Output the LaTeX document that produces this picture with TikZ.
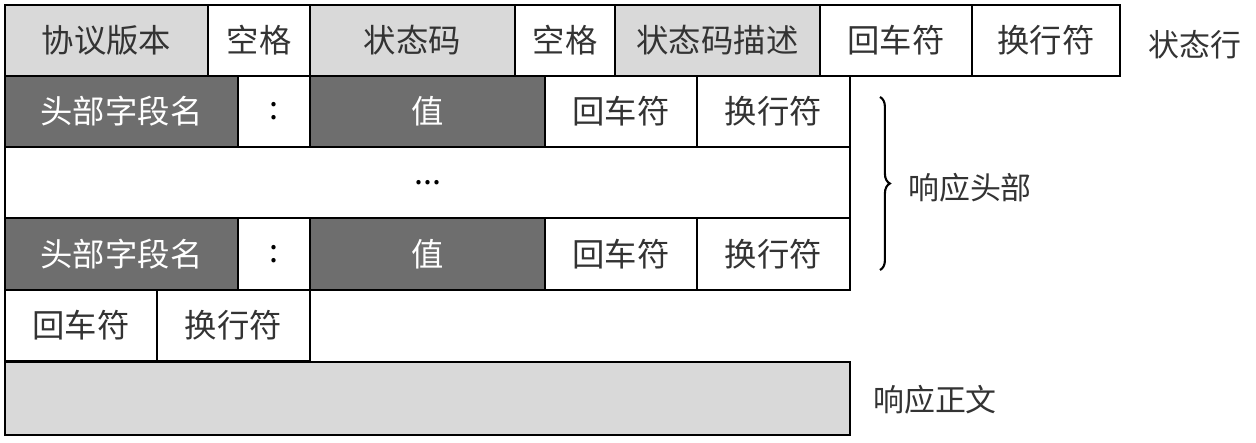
\documentclass[tikz,border=0pt]{standalone}
\usepackage{fontspec}
\newfontfamily\cjk{Noto Sans CJK SC}
\usetikzlibrary{positioning,decorations.pathreplacing}
\definecolor{lightgr}{HTML}{D9D9D9}
\definecolor{darkgr}{HTML}{6E6E6E}
\definecolor{txtgr}{HTML}{333333}
\newcommand{\px}{0.025cm}
\tikzset{
  cell/.style={draw=black, line width=1.2pt, inner sep=0pt, outer sep=0pt,
    anchor=north west, minimum height=71*\px, font=\cjk\fontsize{23}{23}\selectfont},
  side/.style={font=\cjk\fontsize{22}{22}\selectfont, text=txtgr},
}
\begin{document}
\begin{tikzpicture}[x=\px, y=-\px]
    \useasboundingbox (0, 0) rectangle (1256, 442);

    % the status line
    \foreach \x/\w/\f/\l [count=\i] in {5/203/lightgr/协议版本, 208/102/white/空格,
        310/205/lightgr/状态码, 515/100/white/空格, 615/205/lightgr/状态码描述,
        820/152/white/回车符, 972/148/white/换行符}{
    \node[cell, fill=\f, text=txtgr, minimum width=\w*\px] (sl\i) at (\x, 5) {\l};
    }
    \node[side] (sllabel) at (1195, 45) {状态行};

    % the header lines
    \foreach \y/\h/\r in {76/71/a, 218/72/b}{
    \foreach \x/\w/\f/\t/\l [count=\i] in {5/233/darkgr/white/头部字段名, 238/72/white/black/:,
        310/235/darkgr/white/值, 545/152/white/txtgr/回车符, 697/153/white/txtgr/换行符}{
        \node[cell, fill=\f, text=\t, minimum width=\w*\px, minimum height=\h*\px]
        (h\r\i) at (\x, \y) {\l};
    }
    }
    \node[cell, fill=white, text=black, minimum width=845*\px] (dots) at (5, 147) {...};

    % the empty line
    \foreach \x/\w/\l [count=\i] in {5/152/回车符, 157/153/换行符}{
    \node[cell, fill=white, text=txtgr, minimum width=\w*\px] (el\i) at (\x, 290) {\l};
    }

    % the body
    \node[cell, fill=lightgr, minimum width=845*\px, minimum height=73*\px] (body) at (5, 362) {};
    \node[side] (bodylabel) at (935, 400) {响应正文};

    % brace for the headers
    \coordinate (bracetop) at (880, 97);
    \coordinate (bracebot) at (880, 270);
    \draw[decorate, decoration={brace, amplitude=7pt}, line width=1.5pt] (bracetop) -- (bracebot);
    \node[side] (headlabel) at (970, 188) {响应头部};
\end{tikzpicture}
\end{document}
